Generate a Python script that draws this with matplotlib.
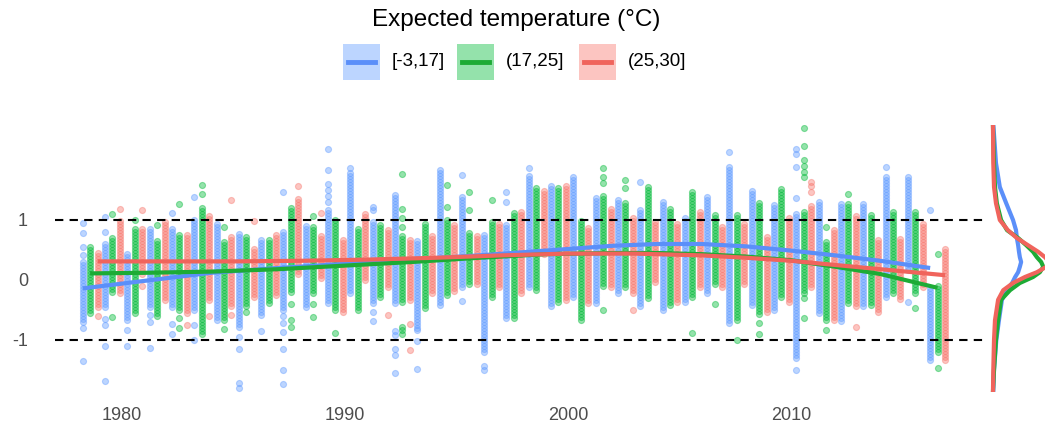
import numpy as np
import matplotlib
matplotlib.use("Agg")
import matplotlib.pyplot as plt
from matplotlib.patches import Rectangle
from matplotlib.lines import Line2D

plt.rcParams['font.family'] = ['Liberation Sans', 'DejaVu Sans']

# ---- data -------------------------------------------------------------
years = list(range(1978, 2017))
groups = ["[-3,17]", "(17,25]", "(25,30]"]
colors = ["#619CFF", "#00BA38", "#F8766D"]
line_colors = ["#5B8FF9", "#1DAB35", "#F0645C"]
dodge = [0.24, 0.57, 0.91]

# per-year dense band (low, high) and isolated values, one set per group
blue_lo = [-0.7, -0.45, -0.67, -0.45, -0.45, -0.5, -0.67, -0.78, -0.58, -0.5,
           -0.45, -0.39, -0.22, -0.39, -0.39, -0.8, -0.42, -0.11, -1.2, -0.64,
           -0.11, -0.44, -0.28, -0.39, -0.22, -0.44, -0.5, -0.36, -0.22, -0.72,
           -0.42, -0.5, -1.3, -0.55, -0.69, -0.44, -0.28, 0.17, -1.33]
blue_hi = [0.3, 0.6, 0.45, 0.86, 0.89, 1.0, 0.97, 0.78, 0.69, 0.83,
           0.94, 1.17, 1.78, 0.97, 1.42, 0.67, 1.83, 1.39, 0.75, 0.94,
           1.75, 1.56, 1.75, 1.39, 1.36, 1.17, 1.33, 1.08, 1.39, 1.9,
           1.5, 1.28, 1.1, 1.33, 1.3, 1.28, 1.72, 1.72, -0.11]
blue_extra = [[0.95, 0.78, 0.55, 0.42, -0.8, -1.35], [1.05, 0.8, -0.65, -0.75, -1.1, -1.68],
              [-0.83, -1.1], [-0.58, -0.7, -1.13], [1.11, -0.73, -0.9], [1.39, -0.75, -1.0],
              [], [-0.95, -1.15, -1.72, -1.8], [-0.85],
              [1.46, -0.6, -0.72, -0.86, -1.15, -1.5, -1.73], [],
              [2.18, 1.83, 1.6, 1.5, 1.4, 1.3], [1.86], [1.22, 1.16, -0.53, -0.69],
              [-0.85, -0.92, -1.15, -1.25, -1.55], [-0.83, -1.02, -1.48], [],
              [1.75, -0.35], [-1.44, -1.5], [1.47, 1.3], [1.86], [], [], [], [],
              [1.64], [], [], [], [2.14], [], [], [2.19, 2.1, 1.89, 1.36, -1.5],
              [], [], [], [1.89], [-0.36], [1.17]]

green_lo = [-0.55, -0.2, -0.55, -0.6, -0.5, -0.9, -0.67, -0.44, -0.39, -0.2,
            -0.22, -0.5, -0.5, -0.28, -0.36, -0.42, -0.25, -0.06, -0.28, -0.64,
            -0.17, -0.36, -0.67, -0.1, -0.11, -0.3, -0.42, -0.28, -0.06, -0.67,
            -0.56, -0.28, -0.22, -0.67, -0.39, -0.42, -0.22, -0.22, -1.2]
green_hi = [0.55, 0.7, 0.85, 0.67, 0.78, 1.2, 0.67, 0.75, 0.69, 1.22,
            0.89, 1.0, 0.89, 0.94, 0.78, 0.94, 1.0, 0.83, 1.0, 1.14,
            1.56, 1.58, 1.0, 1.4, 1.33, 1.56, 1.19, 1.47, 1.11, 1.11,
            1.33, 1.56, 1.17, 0.67, 1.28, 1.08, 1.17, 1.17, -0.06]
green_extra = [[], [1.1, -0.62], [1.0], [0.92], [1.27, -0.63, -0.8], [1.58, 1.44],
               [0.88, -0.82], [-0.54], [], [-0.4, -0.67, -0.78], [1.06, -0.4, -0.61],
               [-0.88], [], [], [1.76, 1.18, 1.03, 0.88, -0.78, -0.84, -0.9], [-0.47],
               [1.58, 1.21], [1.46, 1.17], [1.33], [], [], [], [],
               [1.86, 1.72, 1.61, -0.5], [1.67, 1.53], [], [], [-0.89], [-0.4],
               [-1.0], [-0.72, -0.9], [],
               [2.53, 2.23, 2.0, 1.9, 1.8, 1.72, -0.3, -0.63], [0.89, -0.83], [1.44],
               [], [], [-0.47], [0.44, -1.47]]

red_lo = [-0.45, -0.22, 0.1, -0.33, -0.55, -0.33, -0.44, -0.28, -0.25, 0.1,
          0.03, -0.53, 0.0, -0.11, -0.33, -0.22, -0.19, -0.06, -0.11, -0.22,
          0.44, -0.33, -0.39, -0.11, -0.22, -0.03, -0.36, -0.11, -0.11, -0.06,
          -0.53, -0.36, -0.11, -0.67, -0.44, -0.53, -0.31, -0.11, -1.33]
red_hi = [0.45, 1.0, 0.85, 1.0, 0.78, 1.1, 0.72, 0.53, 0.78, 1.36,
          0.75, 0.69, 1.14, 0.86, 0.67, 0.75, 0.94, 0.78, 0.97, 1.14,
          1.5, 1.58, 0.89, 1.22, 1.06, 1.0, 0.94, 1.14, 0.92, 0.94,
          0.72, 1.06, 1.28, 0.83, 1.06, 0.69, 0.72, 0.97, 0.53]
red_extra = [[-0.6], [1.19], [1.16, -0.1], [], [-0.75], [-0.6], [1.33, -0.58], [0.98],
             [], [1.56], [1.12], [], [], [-0.58], [-0.73, -1.17], [], [], [], [], [],
             [], [], [], [], [-0.5], [], [], [], [], [], [], [],
             [1.64, 1.56, 1.47], [], [-0.78], [], [], [], []]

# smoothed trend per group
blue_fit_x = [1978.24, 1980, 1982, 1984, 1987, 1990, 1993, 1996, 1999, 2002, 2004,
              2006, 2008, 2010, 2012, 2014, 2016.24]
blue_fit_y = [-0.14, -0.06, 0.03, 0.12, 0.2, 0.27, 0.34, 0.41, 0.49, 0.57, 0.6,
              0.6, 0.56, 0.49, 0.41, 0.32, 0.2]
green_fit_x = [1978.57, 1981, 1984, 1987, 1990, 1993, 1996, 1999, 2002, 2004, 2006,
               2008, 2010, 2012, 2014, 2016.57]
green_fit_y = [0.11, 0.12, 0.14, 0.18, 0.24, 0.3, 0.37, 0.43, 0.45, 0.45, 0.43,
               0.39, 0.33, 0.22, 0.1, -0.13]
red_fit_x = [1978.91, 1982, 1985, 1988, 1991, 1994, 1997, 2000, 2003, 2006, 2008,
             2010, 2012, 2014, 2016.91]
red_fit_y = [0.31, 0.31, 0.31, 0.32, 0.34, 0.37, 0.41, 0.44, 0.44, 0.41, 0.37,
             0.32, 0.25, 0.18, 0.08]

# marginal density of each group over the anomaly scale
dens_levels = [-1.85, -1.5, -1.0, -0.67, -0.33, -0.17, -0.05, 0.05, 0.13, 0.22, 0.3,
               0.38, 0.47, 0.58, 0.7, 0.83, 1.0, 1.28, 1.55, 1.95, 2.55]
blue_dens = [0.007, 0.024, 0.078, 0.14, 0.21, 0.33, 0.45, 0.52, 0.59, 0.63, 0.66,
             0.63, 0.61, 0.59, 0.56, 0.54, 0.47, 0.31, 0.16, 0.07, 0.012]
green_dens = [0.0, 0.024, 0.07, 0.12, 0.19, 0.4, 0.63, 0.94, 1.1, 1.18, 1.13,
              1.03, 0.94, 0.78, 0.59, 0.33, 0.19, 0.09, 0.047, 0.024, 0.0]
red_dens = [0.0, 0.007, 0.024, 0.047, 0.12, 0.24, 0.47, 0.75, 1.03, 1.25, 1.32,
            1.22, 1.06, 0.82, 0.56, 0.35, 0.16, 0.07, 0.024, 0.007, 0.0]

x_ticks = [1980, 1990, 2000, 2010]
y_ticks = [-1, 0, 1]

lows = [blue_lo, green_lo, red_lo]
highs = [blue_hi, green_hi, red_hi]
extras = [blue_extra, green_extra, red_extra]
fits = [(blue_fit_x, blue_fit_y), (green_fit_x, green_fit_y), (red_fit_x, red_fit_y)]
dens = [blue_dens, green_dens, red_dens]


def column_points(lo, hi, extra, step=0.05):
    band = np.arange(lo, hi + 1e-9, step)
    return np.concatenate([band, np.asarray(extra, dtype=float)])


# ---- figure -----------------------------------------------------------
W, H = 1045, 429
fig = plt.figure(figsize=(W / 100, H / 100), dpi=100)

ax_l, ax_r, ax_t, ax_b = 55, 987, 125, 392
ax = fig.add_axes([ax_l / W, (H - ax_b) / H, (ax_r - ax_l) / W, (ax_b - ax_t) / H])
axd = fig.add_axes([990 / W, (H - ax_b) / H, 55 / W, (ax_b - ax_t) / H])

for g in range(3):
    xs, ys = [], []
    for i, yr in enumerate(years):
        pts = column_points(lows[g][i], highs[g][i], extras[g][i])
        xs.append(np.full(len(pts), yr + dodge[g]))
        ys.append(pts)
    ax.scatter(np.concatenate(xs), np.concatenate(ys), s=19, color=colors[g],
               alpha=0.42, edgecolors=colors[g], linewidths=0.8, zorder=2)

for g in range(3):
    fx, fy = fits[g]
    ax.plot(fx, fy, color=line_colors[g], lw=3.0, solid_capstyle='butt', zorder=4)

for yv in (-1, 1):
    ax.axhline(yv, color='black', lw=1.5, linestyle=(0, (4, 3)), zorder=3)

x0 = 1980 - (122 - ax_l) / 22.3
x1 = 1980 + (ax_r - 122) / 22.3
ax.set_xlim(x0, x1)
ylo, yhi = -(ax_b - 280) / 60, (280 - ax_t) / 60
ax.set_ylim(ylo, yhi)
ax.set_xticks(x_ticks)
ax.set_yticks(y_ticks)
ax.set_yticklabels(["-1", "0", "1"])
ax.tick_params(length=0, labelsize=13, labelcolor='#4D4D4D')
ax.tick_params(axis='x', pad=11)
ax.tick_params(axis='y', pad=19.5)
for sp in ax.spines.values():
    sp.set_visible(False)

# marginal densities
for g in range(3):
    axd.plot(dens[g], dens_levels, color=line_colors[g], lw=3.0, zorder=3 + g)
axd.set_ylim(ylo, yhi)
axd.set_xlim(-0.07, 1.22)
axd.axis('off')

# legend
lg = fig.add_axes([0, 0, 1, 1], zorder=-1)
lg.set_xlim(0, W)
lg.set_ylim(H, 0)
lg.axis('off')
lg.text(516, 20, "Expected temperature (°C)", ha='center', va='center', fontsize=17.5,
        color='black')
key_x = [343, 457, 579]
for g in range(3):
    lg.add_patch(Rectangle((key_x[g], 44), 37, 36, facecolor=colors[g], alpha=0.42,
                           edgecolor='none'))
    lg.add_line(Line2D([key_x[g] + 5, key_x[g] + 32], [62, 62], color=line_colors[g],
                       lw=3.5))
    lg.text(key_x[g] + 49, 62, groups[g], ha='left', va='center', fontsize=13.5,
            color='black')

fig.savefig("out.png", dpi=100)
